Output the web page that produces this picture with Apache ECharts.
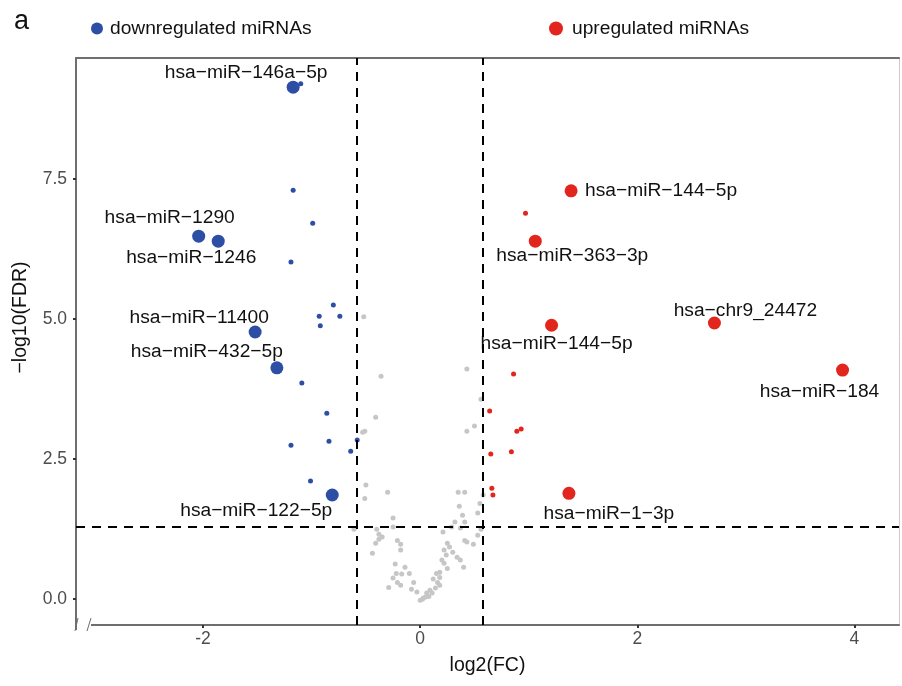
<!DOCTYPE html>
<html>
<head>
<meta charset="utf-8">
<script src="https://cdn.jsdelivr.net/npm/echarts@6/dist/echarts.min.js"></script>
<style>
  html, body { margin: 0; padding: 0; background: #fff; }
  #volcano { width: 902px; height: 686px; }
</style>
</head>
<body>
<div id="volcano"></div>
<script>
// labelled miRNAs (big dots)
const downNames = ['hsa−miR−146a−5p', 'hsa−miR−1290', 'hsa−miR−1246', 'hsa−miR−11400', 'hsa−miR−432−5p', 'hsa−miR−122−5p'];
const downLabelled = [[-1.17, 9.14], [-2.04, 6.48], [-1.86, 6.39], [-1.52, 4.77], [-1.32, 4.13], [-0.81, 1.86]];
const upNames = ['hsa−miR−144−5p', 'hsa−miR−363−3p', 'hsa−chr9_24472', 'hsa−miR−144−5p ', 'hsa−miR−184', 'hsa−miR−1−3p'];
const upLabelled = [[1.39, 7.29], [1.06, 6.39], [2.71, 4.93], [1.21, 4.89], [3.89, 4.09], [1.37, 1.89]];

// other significant miRNAs (small dots)
const downOther = [[-1.10, 9.20], [-1.17, 7.30], [-0.99, 6.71], [-1.19, 6.02], [-0.80, 5.25], [-0.93, 5.05],
  [-0.74, 5.05], [-0.92, 4.88], [-1.09, 3.86], [-0.86, 3.32], [-1.19, 2.75], [-0.84, 2.82], [-0.58, 2.84],
  [-0.64, 2.64], [-1.01, 2.11]];
const upOther = [[0.97, 6.89], [0.86, 4.02], [0.64, 3.36], [0.89, 3.00], [0.93, 3.04], [0.65, 2.59],
  [0.84, 2.63], [0.66, 1.98], [0.67, 1.86]];

// not significant
const grayPts = [[-0.36, 3.98], [0.43, 4.11], [0.56, 3.57], [-0.41, 3.25], [0.43, 3.00], [0.50, 3.09],
  [-0.51, 3.00], [-0.53, 2.98], [-0.52, 5.04], [-0.50, 2.04], [-0.30, 1.91], [-0.51, 1.80], [0.35, 1.91],
  [0.41, 1.91], [0.58, 1.86], [0.36, 1.66], [0.55, 1.71], [-0.25, 1.45], [0.39, 1.50], [0.53, 1.54],
  [0.32, 1.38], [0.41, 1.38], [-0.25, 1.29], [-0.40, 1.25], [-0.61, 1.25], [-0.38, 1.16], [-0.35, 1.11],
  [0.29, 1.29], [0.37, 1.27], [0.21, 1.20], [0.56, 1.25], [0.53, 1.14], [-0.38, 1.07], [-0.41, 1.00],
  [-0.21, 1.05], [-0.18, 0.98], [0.41, 1.05], [0.43, 1.02], [0.49, 0.98], [0.25, 1.00], [-0.44, 0.82],
  [-0.18, 0.88], [0.27, 0.93], [0.22, 0.88], [0.30, 0.84], [0.34, 0.75], [0.24, 0.79], [0.20, 0.70],
  [-0.23, 0.63], [-0.14, 0.57], [0.37, 0.70], [0.22, 0.64], [0.25, 0.55], [0.18, 0.48], [-0.22, 0.46],
  [-0.17, 0.45], [-0.10, 0.46], [0.40, 0.57], [0.15, 0.46], [0.18, 0.39], [0.12, 0.36], [-0.25, 0.38],
  [-0.21, 0.30], [-0.18, 0.25], [-0.29, 0.21], [-0.06, 0.30], [-0.08, 0.18], [-0.03, 0.13], [0.16, 0.30],
  [0.18, 0.25], [0.14, 0.20], [0.09, 0.16], [0.06, 0.11], [0.05, 0.04], [0.02, 0.00], [0.00, -0.02],
  [0.03, 0.02], [0.11, 0.11], [0.08, 0.05]];

const xTicks = [-2, 0, 2, 4];
const yTicks = [0, 2.5, 5, 7.5];
const fcCut = 0.585;
const fdrCut = 1.301;

// label placement (pixel offsets of the text centre from the dot)
const labelOffsets = {
  'hsa−miR−146a−5p': [-47, -14],
  'hsa−miR−1290': [-29, -18],
  'hsa−miR−1246': [-27, 17],
  'hsa−miR−11400': [-56, -14],
  'hsa−miR−432−5p': [-70, -16],
  'hsa−miR−122−5p': [-76, 16],
  'hsa−miR−144−5p': [90, 0],
  'hsa−miR−363−3p': [37, 15],
  'hsa−chr9_24472': [31, -12],
  'hsa−miR−144−5p ': [5, 18],
  'hsa−miR−184': [-23, 22],
  'hsa−miR−1−3p': [40, 20]
};

const BLUE = '#2d4ea5';
const RED = '#e2261d';
const GREY = '#c6c6c6';
const FONT = 'Liberation Sans, Arial, sans-serif';
const BIG = 13;
const TXT = 19.2;

function buildPoints(labelled, names, other) {
  let pts = other.map(p => ({ value: p, symbolSize: 5 }));
  labelled.forEach((p, i) => {
    let off = labelOffsets[names[i]];
    pts.push({
      value: p,
      name: names[i],
      symbolSize: BIG,
      label: {
        show: true,
        position: [BIG / 2 + off[0], BIG / 2 + off[1]],
        align: 'center',
        verticalAlign: 'middle',
        formatter: names[i].trim(),
        color: '#111',
        fontSize: TXT,
        fontFamily: FONT
      }
    });
  });
  return pts;
}

let chart = echarts.init(document.getElementById('volcano'));

let option = {
  animation: false,
  textStyle: { fontFamily: FONT },
  title: {
    text: 'a',
    left: 9,
    top: 3,
    textStyle: { fontSize: 27, fontWeight: 'normal', color: '#111', fontFamily: FONT }
  },
  legend: [
    {
      data: ['downregulated miRNAs'],
      left: 91, top: 19, padding: 0,
      icon: 'circle', itemWidth: 12, itemHeight: 12, itemGap: 6,
      textStyle: { fontSize: TXT, color: '#111', fontFamily: FONT, padding: [0, 0, 0, 2] }
    },
    {
      data: ['upregulated miRNAs'],
      left: 549, top: 19, padding: 0,
      icon: 'circle', itemWidth: 14, itemHeight: 14, itemGap: 6,
      textStyle: { fontSize: TXT, color: '#111', fontFamily: FONT, padding: [0, 0, 0, 4] }
    }
  ],
  grid: { left: 76, right: 3, top: 58, bottom: 61 },
  xAxis: [
    {
      type: 'value', min: -3.17, max: 4.41,
      name: 'log2(FC)', nameLocation: 'middle', nameGap: 31,
      nameTextStyle: { fontSize: 19.5, color: '#111', fontFamily: FONT },
      splitLine: { show: false },
      axisLine: { onZero: false, lineStyle: { color: '#6e6e6e', width: 2 } },
      axisTick: { customValues: xTicks, length: 3, lineStyle: { color: '#333', width: 2 } },
      axisLabel: { customValues: xTicks, fontSize: 17.5, color: '#4d4d4d', margin: 5 }
    },
    {
      type: 'value', position: 'top', min: -3.17, max: 4.41,
      splitLine: { show: false },
      axisLine: { onZero: false, lineStyle: { color: '#6f6f6f', width: 2 } },
      axisTick: { show: false }, axisLabel: { show: false }
    }
  ],
  yAxis: [
    {
      type: 'value', min: -0.46, max: 9.66,
      name: '−log10(FDR)', nameLocation: 'middle', nameGap: 45,
      nameTextStyle: { fontSize: 19.5, color: '#111', fontFamily: FONT, padding: [0, 0, 0, 48] },
      splitLine: { show: false },
      axisLine: { onZero: false, lineStyle: { color: '#6e6e6e', width: 2 } },
      axisTick: { customValues: yTicks, length: 3, lineStyle: { color: '#333', width: 2 } },
      axisLabel: { customValues: yTicks, fontSize: 17.5, color: '#4d4d4d', margin: 9,
        formatter: v => v.toFixed(1) }
    },
    {
      type: 'value', position: 'right', min: -0.46, max: 9.66,
      splitLine: { show: false },
      axisLine: { onZero: false, lineStyle: { color: '#cccccc', width: 1 } },
      axisTick: { show: false }, axisLabel: { show: false }
    }
  ],
  series: [
    {
      name: 'not significant',
      type: 'scatter',
      data: grayPts,
      symbolSize: 5,
      itemStyle: { color: GREY, opacity: 1 },
      markLine: {
        silent: true,
        symbol: 'none',
        label: { show: false },
        lineStyle: { color: '#000', width: 2, type: [9, 7] },
        data: [{ xAxis: -fcCut }, { xAxis: fcCut }, { yAxis: fdrCut }]
      }
    },
    {
      name: 'downregulated miRNAs',
      type: 'scatter',
      data: buildPoints(downLabelled, downNames, downOther),
      itemStyle: { color: BLUE, opacity: 1 },
      labelLayout: { hideOverlap: false }
    },
    {
      name: 'upregulated miRNAs',
      type: 'scatter',
      data: buildPoints(upLabelled, upNames, upOther),
      itemStyle: { color: RED, opacity: 1 },
      labelLayout: { hideOverlap: false }
    }
  ],
  // axis break mark in the bottom-left corner
  graphic: [
    { type: 'rect', shape: { x: 77, y: 618, width: 14, height: 14 }, style: { fill: '#fff' }, z: 100 },
    { type: 'line', shape: { x1: 76, y1: 625, x2: 76, y2: 630 }, style: { stroke: '#6e6e6e', lineWidth: 2 }, z: 101 },
    { type: 'line', shape: { x1: 75, y1: 631, x2: 78, y2: 618 }, style: { stroke: '#6e6e6e', lineWidth: 1 }, z: 101 },
    { type: 'line', shape: { x1: 87, y1: 631, x2: 91, y2: 618 }, style: { stroke: '#6e6e6e', lineWidth: 1 }, z: 101 }
  ]
};

chart.setOption(option);
window.onresize = chart.resize;
</script>
</body>
</html>
